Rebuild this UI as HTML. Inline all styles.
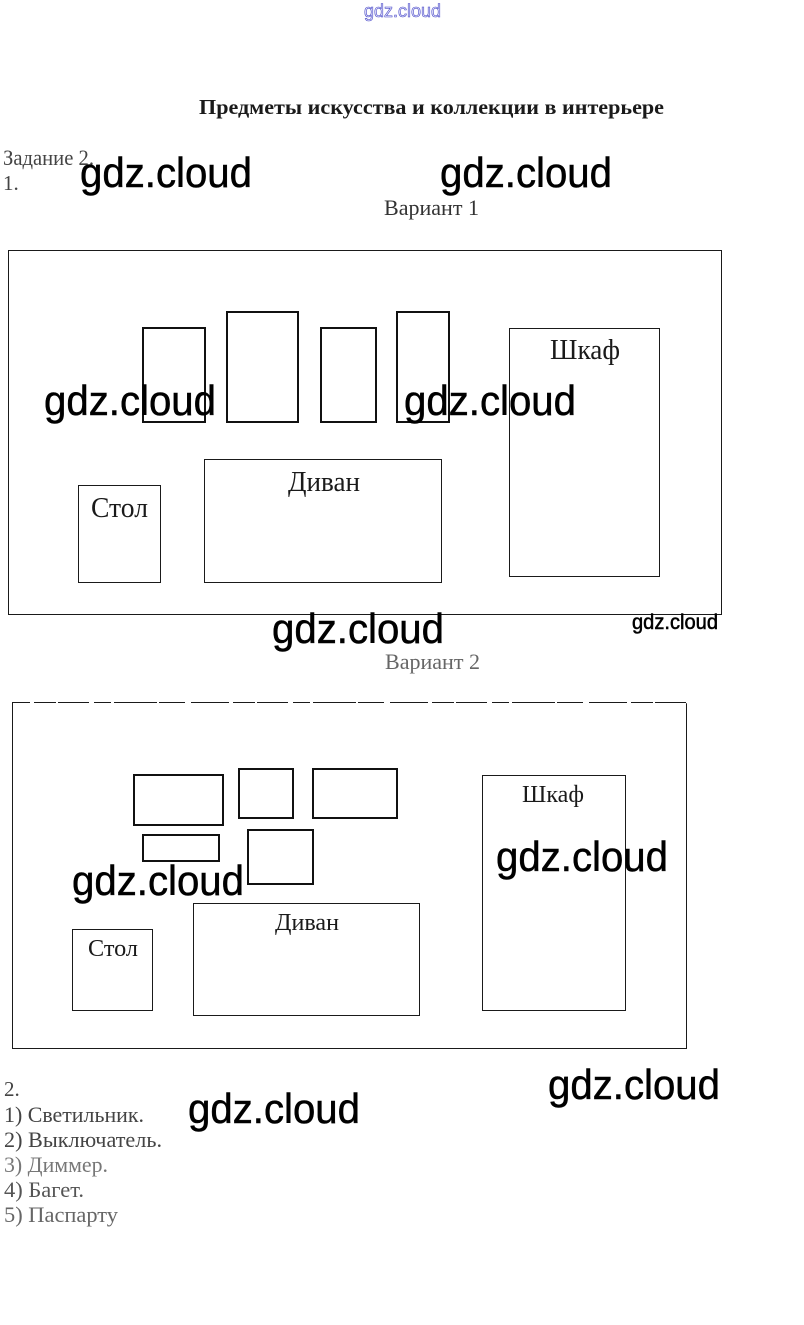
<!DOCTYPE html>
<html lang="ru">
<head>
<meta charset="utf-8">
<title>Предметы искусства и коллекции в интерьере</title>
<style>
html,body{margin:0;padding:0;background:#fff;width:804px;height:1325px;overflow:hidden}
svg{display:block}
.s{font-family:"Liberation Serif","Noto Serif CJK SC",serif;fill:#1a1a1a}
.w{font-family:"Liberation Sans","DejaVu Sans",sans-serif;fill:#000;stroke:#000;stroke-width:.5}
.t1{fill:none;stroke:#1a1a1a;stroke-width:1}
.t2{fill:none;stroke:#111;stroke-width:2}
</style>
</head>
<body>
<svg width="804" height="1325" viewBox="0 0 804 1325" xmlns="http://www.w3.org/2000/svg">
<rect width="804" height="1325" fill="#fff"/>

<text x="364" y="17" font-size="18" textLength="77" lengthAdjust="spacingAndGlyphs" font-family="Liberation Sans, sans-serif" fill="#e4e4fa" stroke="#4a4ac8" stroke-width=".6">gdz.cloud</text>

<text class="s" x="199" y="114" font-size="21" font-weight="bold" textLength="465" lengthAdjust="spacingAndGlyphs">Предметы искусства и коллекции в интерьере</text>
<text class="s" x="3" y="165" font-size="22" textLength="91" lengthAdjust="spacingAndGlyphs" style="fill:#444">Задание 2.</text>
<text class="s" x="3" y="190" font-size="21" style="fill:#444">1.</text>
<text class="s" x="384" y="215" font-size="22" textLength="95" lengthAdjust="spacingAndGlyphs" style="fill:#333">Вариант 1</text>

<rect class="t1" x="8.5" y="250.5" width="713" height="364"/>
<rect class="t2" x="143" y="328" width="62" height="94"/>
<rect class="t2" x="227" y="312" width="71" height="110"/>
<rect class="t2" x="321" y="328" width="55" height="94"/>
<rect class="t2" x="397" y="312" width="52" height="110"/>
<rect class="t1" x="509.5" y="328.5" width="150" height="248"/>
<rect class="t1" x="204.5" y="459.5" width="237" height="123"/>
<rect class="t1" x="78.5" y="485.5" width="82" height="97"/>
<text class="s" x="550" y="359" font-size="28" textLength="70" lengthAdjust="spacingAndGlyphs">Шкаф</text>
<text class="s" x="288" y="491" font-size="28" textLength="72" lengthAdjust="spacingAndGlyphs">Диван</text>
<text class="s" x="91" y="517" font-size="28" textLength="57" lengthAdjust="spacingAndGlyphs">Стол</text>

<text class="s" x="385" y="669" font-size="22" textLength="95" lengthAdjust="spacingAndGlyphs" style="fill:#666">Вариант 2</text>

<rect class="t1" x="12.5" y="702.5" width="674" height="346"/>
<path d="M30 702.5H690" stroke="#fff" stroke-width="1.5" stroke-dasharray="4 22 2 31 5 17 3 43 2 26 6 38" fill="none"/>
<rect class="t2" x="134" y="775" width="89" height="50"/>
<rect class="t2" x="239" y="769" width="54" height="49"/>
<rect class="t2" x="313" y="769" width="84" height="49"/>
<rect class="t2" x="143" y="835" width="76" height="26"/>
<rect class="t2" x="248" y="830" width="65" height="54"/>
<rect class="t1" x="482.5" y="775.5" width="143" height="235"/>
<rect class="t1" x="193.5" y="903.5" width="226" height="112"/>
<rect class="t1" x="72.5" y="929.5" width="80" height="81"/>
<text class="s" x="522" y="802" font-size="24" textLength="62" lengthAdjust="spacingAndGlyphs">Шкаф</text>
<text class="s" x="275" y="930" font-size="24" textLength="64" lengthAdjust="spacingAndGlyphs">Диван</text>
<text class="s" x="88" y="956" font-size="24" textLength="50" lengthAdjust="spacingAndGlyphs">Стол</text>

<text class="s" x="4" y="1096" font-size="21" style="fill:#444">2.</text>
<text class="s" x="4" y="1122" font-size="22" textLength="140" lengthAdjust="spacingAndGlyphs" style="fill:#444">1) Светильник.</text>
<text class="s" x="4" y="1147" font-size="22" textLength="158" lengthAdjust="spacingAndGlyphs" style="fill:#444">2) Выключатель.</text>
<text class="s" x="4" y="1172" font-size="22" textLength="104" lengthAdjust="spacingAndGlyphs" style="fill:#777">3) Диммер.</text>
<text class="s" x="4" y="1197" font-size="22" textLength="80" lengthAdjust="spacingAndGlyphs" style="fill:#555">4) Багет.</text>
<text class="s" x="4" y="1222" font-size="22" textLength="114" lengthAdjust="spacingAndGlyphs" style="fill:#666">5) Паспарту</text>

<text class="w" x="80" y="187" font-size="42" textLength="172" lengthAdjust="spacingAndGlyphs">gdz.cloud</text>
<text class="w" x="440" y="187" font-size="42" textLength="172" lengthAdjust="spacingAndGlyphs">gdz.cloud</text>
<text class="w" x="44" y="415" font-size="42" textLength="172" lengthAdjust="spacingAndGlyphs">gdz.cloud</text>
<text class="w" x="404" y="415" font-size="42" textLength="172" lengthAdjust="spacingAndGlyphs">gdz.cloud</text>
<text class="w" x="272" y="643" font-size="42" textLength="172" lengthAdjust="spacingAndGlyphs">gdz.cloud</text>
<text class="w" x="632" y="629" font-size="21" textLength="86" lengthAdjust="spacingAndGlyphs">gdz.cloud</text>
<text class="w" x="496" y="871" font-size="42" textLength="172" lengthAdjust="spacingAndGlyphs">gdz.cloud</text>
<text class="w" x="72" y="895" font-size="42" textLength="172" lengthAdjust="spacingAndGlyphs">gdz.cloud</text>
<text class="w" x="548" y="1099" font-size="42" textLength="172" lengthAdjust="spacingAndGlyphs">gdz.cloud</text>
<text class="w" x="188" y="1123" font-size="42" textLength="172" lengthAdjust="spacingAndGlyphs">gdz.cloud</text>
</svg>
</body>
</html>
